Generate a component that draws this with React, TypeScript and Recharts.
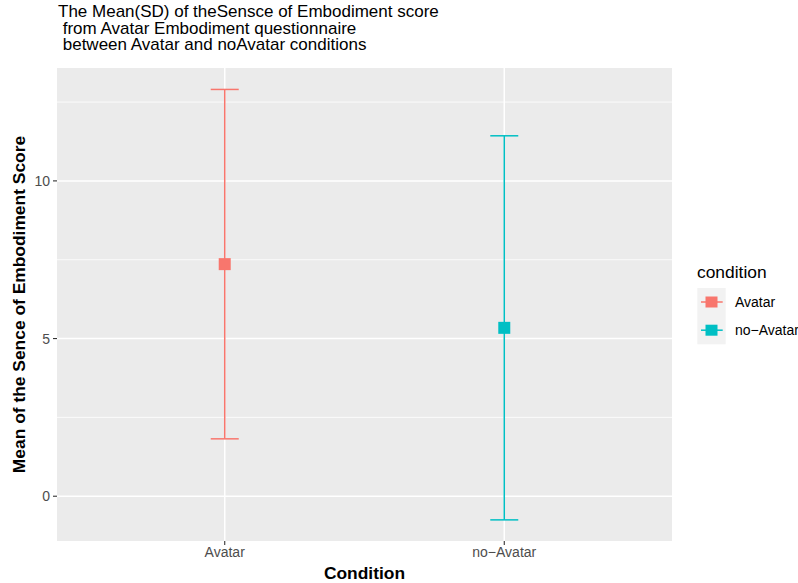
import React from 'react';
import { ComposedChart, Scatter, XAxis, YAxis, CartesianGrid, ErrorBar } from 'recharts';

// Condition labels, group means and standard deviations
const conditions = ['Avatar', 'no\u2212Avatar'];
const means = [7.36, 5.34];
const sds = [5.54, 6.09];
const colors = ['#F8766D', '#00BFC4'];

// Axis ticks and gridlines
const yTicks = [0, 5, 10];
const yMinorGrid = [2.5, 7.5, 12.5];
const xPositions = [1, 2];

const titleLines = [
  'The Mean(SD) of theSensce of Embodiment score',
  ' from Avatar Embodiment questionnaire',
  ' between Avatar and noAvatar conditions',
];
const yTitle = 'Mean of the Sence of Embodiment Score';
const xTitle = 'Condition';
const legendTitle = 'condition';

const W = 798;
const H = 583;
const FONT = '"Liberation Sans", Arial, Helvetica, sans-serif';

const seriesData = conditions.map((c, i) => [
  { pos: xPositions[i], mean: means[i], sd: sds[i], condition: c },
]);

const squareShape = (color: string, size: number) => (props: any) => {
  const { cx, cy } = props;
  if (cx == null || cy == null) return <g />;
  return <rect x={cx - size / 2} y={cy - size / 2} width={size} height={size} fill={color} />;
};

export default function App() {
  return (
    <div style={{ position: 'absolute', left: 0, top: 0, width: W, height: H, background: '#fff', overflow: 'hidden' }}>
      <ComposedChart
        width={W}
        height={H}
        margin={{ top: 68, right: 126, bottom: 0, left: 0 }}
        style={{ fontFamily: FONT }}
      >
        <CartesianGrid
          fill="#EBEBEB"
          stroke="#FFFFFF"
          strokeWidth={0.8}
          vertical={false}
          horizontalValues={yMinorGrid}
        />
        <CartesianGrid
          stroke="#FFFFFF"
          strokeWidth={1.5}
          horizontalValues={yTicks}
          verticalValues={xPositions}
        />
        <XAxis
          type="number"
          dataKey="pos"
          domain={[0.4, 2.6]}
          ticks={xPositions}
          tickFormatter={(v: number) => conditions[v - 1] ?? ''}
          axisLine={false}
          tickLine={{ stroke: '#333333', strokeWidth: 1.1 }}
          tickSize={4}
          tickMargin={2}
          tick={{ fill: '#4D4D4D', fontSize: 14, fontFamily: FONT }}
          height={42}
          allowDataOverflow
        />
        <YAxis
          type="number"
          domain={[-1.42, 13.58]}
          ticks={yTicks}
          axisLine={false}
          tickLine={{ stroke: '#333333', strokeWidth: 1.1 }}
          tickSize={4}
          tickMargin={3}
          tick={{ fill: '#4D4D4D', fontSize: 14, fontFamily: FONT }}
          width={57}
          allowDataOverflow
        />
        {seriesData.map((d, i) => (
          <Scatter
            key={conditions[i]}
            data={d}
            dataKey="mean"
            fill={colors[i]}
            shape={squareShape(colors[i], 12)}
            isAnimationActive={false}
          >
            <ErrorBar
              dataKey="sd"
              direction="y"
              width={14}
              stroke={colors[i]}
              strokeWidth={1.5}
              isAnimationActive={false}
            />
          </Scatter>
        ))}
      </ComposedChart>

      <svg
        width={W}
        height={H}
        style={{ position: 'absolute', left: 0, top: 0, pointerEvents: 'none', fontFamily: FONT }}
      >
        {titleLines.map((t, i) => (
          <text key={i} x={58} y={17 + i * 16.7} fontSize={17} fill="#000" style={{ whiteSpace: 'pre' }}>
            {t}
          </text>
        ))}
        <text
          x={0}
          y={0}
          transform={`translate(25, 304.5) rotate(-90)`}
          textAnchor="middle"
          fontSize={17.4}
          fontWeight="bold"
          fill="#000"
        >
          {yTitle}
        </text>
        <text x={364.5} y={579} textAnchor="middle" fontSize={17.4} fontWeight="bold" fill="#000">
          {xTitle}
        </text>

        {/* legend */}
        <text x={697} y={278} fontSize={17.4} fill="#000">
          {legendTitle}
        </text>
        <rect x={697.3} y={288} width={28.4} height={56.3} fill="#F2F2F2" />
        {conditions.map((c, i) => {
          const cy = 302 + i * 28.2;
          return (
            <g key={c}>
              <line x1={701} x2={722.7} y1={cy} y2={cy} stroke={colors[i]} strokeWidth={1.5} />
              <rect x={711.5 - 6} y={cy - 5.5} width={12} height={11} fill={colors[i]} />
              <text x={735} y={cy + 5} fontSize={14} fill="#000">
                {c}
              </text>
            </g>
          );
        })}
      </svg>
    </div>
  );
}
